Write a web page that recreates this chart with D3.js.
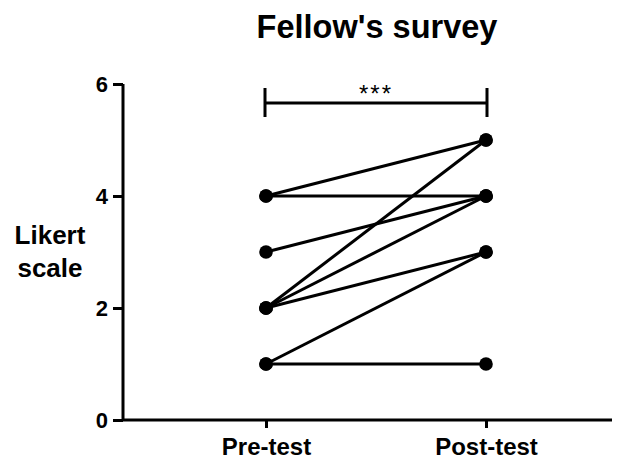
<!DOCTYPE html>
<html>
<head>
<meta charset="utf-8">
<script src="https://cdn.jsdelivr.net/npm/d3@7"></script>
<style>
  body { margin: 0; background: #fff; }
  text { font-family: "Liberation Sans", Arial, sans-serif; font-weight: bold; fill: #000; }
</style>
</head>
<body>
<div id="chart"></div>
<script>
// paired Likert responses, pre vs post
const groups = ["Pre-test", "Post-test"];
const preValues = [4, 4, 3, 2, 2, 2, 1, 1];
const postValues = [5, 4, 4, 5, 4, 3, 3, 1];
const yTicks = [0, 2, 4, 6];

const W = 632, H = 460;
const margin = {top: 84, right: 20, bottom: 40, left: 123};
const width = W - margin.left - margin.right,
      height = H - margin.top - margin.bottom;

const svg = d3.select("#chart").append("svg")
    .attr("width", W)
    .attr("height", H);

const g = svg.append("g")
    .attr("transform", `translate(${margin.left},${margin.top})`);

const x = d3.scalePoint()
    .domain(groups)
    .range([143, 363]);
const y = d3.scaleLinear()
    .domain([0, 6])
    .range([height, 0]);

// axes
const yAxis = g.append("g")
    .call(d3.axisLeft(y).tickValues(yTicks).tickSize(10).tickPadding(5).tickFormat(d3.format("d")));
const xAxis = g.append("g")
    .attr("transform", `translate(0,${height})`)
    .call(d3.axisBottom(x).tickSize(8).tickPadding(10).tickSizeOuter(0));
xAxis.select(".domain").attr("d", `M0,0H${width}`);
yAxis.select(".domain").attr("d", `M0,0V${height}`);
[xAxis, yAxis].forEach(a => {
  a.selectAll(".domain, line").attr("stroke", "#000").attr("stroke-width", 3);
});
yAxis.selectAll("text").style("font-size", "22px");
xAxis.selectAll("text").style("font-size", "24px");

// paired lines
const pairs = preValues.map((v, i) => [v, postValues[i]]);
g.selectAll(".pair")
  .data(pairs)
  .enter().append("line")
    .attr("x1", x(groups[0]))
    .attr("x2", x(groups[1]))
    .attr("y1", d => y(d[0]))
    .attr("y2", d => y(d[1]))
    .attr("stroke", "#000")
    .attr("stroke-width", 3);

const pts = [];
pairs.forEach(d => { pts.push([groups[0], d[0]]); pts.push([groups[1], d[1]]); });
g.selectAll(".dot")
  .data(pts)
  .enter().append("circle")
    .attr("cx", d => x(d[0]))
    .attr("cy", d => y(d[1]))
    .attr("r", 6.8)
    .attr("fill", "#000");

// significance bracket
const by = 103 - margin.top;
const bx0 = x(groups[0]) - 1, bx1 = x(groups[1]) + 1;
g.append("path")
    .attr("d", `M${bx0},${by - 15}V${by + 14}M${bx0},${by}H${bx1}M${bx1},${by - 15}V${by + 14}`)
    .attr("fill", "none")
    .attr("stroke", "#000")
    .attr("stroke-width", 3);
g.append("text")
    .attr("x", (bx0 + bx1) / 2)
    .attr("y", by - 1)
    .attr("text-anchor", "middle")
    .style("font-size", "24px")
    .style("font-weight", "normal")
    .style("letter-spacing", "2px")
    .text("***");

// title
svg.append("text")
    .attr("x", 377)
    .attr("y", 38)
    .attr("text-anchor", "middle")
    .style("font-size", "32.5px")
    .text("Fellow's survey");

// y label
const yl = svg.append("text")
    .attr("text-anchor", "middle")
    .style("font-size", "26px");
yl.append("tspan").attr("x", 50).attr("y", 244).text("Likert");
yl.append("tspan").attr("x", 50).attr("y", 277).text("scale");
</script>
</body>
</html>
